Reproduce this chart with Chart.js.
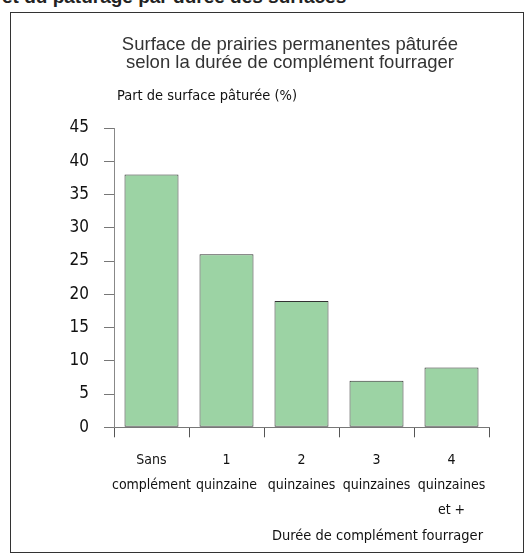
<!DOCTYPE html>
<html>
<head>
<meta charset="utf-8">
<script src="https://cdn.jsdelivr.net/npm/chart.js@4.4.1/dist/chart.umd.min.js"></script>
<style>
  body { margin: 0; background: #fff; width: 531px; height: 560px; overflow: hidden; position: relative; }
  #haut { position: absolute; left: 2px; top: -13px; font: bold 19px "Liberation Sans", Arial, sans-serif; color: #222; white-space: nowrap; line-height: 19px; }
  #cadre { position: absolute; left: 10px; top: 12px; width: 512px; height: 539px; border: 1px solid #333; pointer-events: none; }
  #myChart { position: absolute; left: 0; top: 0; }
</style>
</head>
<body>
<div id="haut">et du pâturage par durée des surfaces</div>
<canvas id="myChart" width="531" height="560"></canvas>
<div id="cadre"></div>
<script>
const titre = ['Surface de prairies permanentes pâturée', 'selon la durée de complément fourrager'];
const titreY = 'Part de surface pâturée (%)';
const titreX = 'Durée de complément fourrager';

const categories = [
    ['Sans', 'complément'],
    ['1', 'quinzaine'],
    ['2', 'quinzaines'],
    ['3', 'quinzaines'],
    ['4', 'quinzaines', 'et +']
];
const partSurface = [38, 26, 19, 7, 9];
const yMin = 0;
const yMax = 45;
const yPas = 5;

const narrow = '"DejaVu Sans Condensed", "Liberation Sans", sans-serif';

// titres dessinés à la main, positions proches de l'original
const textes = {
    id: 'textes',
    afterDraw(chart) {
        const ctx = chart.ctx;
        const area = chart.chartArea;
        ctx.save();
        ctx.fillStyle = '#333';
        ctx.textBaseline = 'middle';
        ctx.textAlign = 'center';
        ctx.font = '18.5px "Liberation Sans", Arial, sans-serif';
        ctx.fillText(titre[0], 290, 45);
        ctx.fillText(titre[1], 290, 63);

        ctx.fillStyle = '#111';
        ctx.font = '14.5px ' + narrow;
        ctx.textAlign = 'left';
        ctx.fillText(titreY, area.left + 3, 96);
        ctx.textAlign = 'right';
        ctx.fillText(titreX, area.right - 6, 536);
        ctx.restore();
    }
};

const ctx = document.getElementById('myChart').getContext('2d');
const myChart = new Chart(ctx, {
    type: 'bar',
    data: {
        labels: categories,
        datasets: [{
            label: titreY,
            data: partSurface,
            backgroundColor: '#9cd3a4',
            borderColor: '#333',
            borderWidth: 1,
            borderSkipped: false,
            categoryPercentage: 1,
            barPercentage: 0.72
        }]
    },
    options: {
        responsive: false,
        devicePixelRatio: 1,
        animation: false,
        layout: {
            padding: { left: 40, right: 42, top: 128, bottom: 0 }
        },
        plugins: {
            legend: { display: false },
            title: { display: false },
            tooltip: { enabled: false }
        },
        scales: {
            x: {
                afterFit(scale) { scale.height = 132.7; },
                grid: {
                    offset: true,
                    drawOnChartArea: false,
                    tickLength: 10,
                    color: '#555'
                },
                border: { display: true, color: '#777' },
                ticks: {
                    maxRotation: 0,
                    autoSkip: false,
                    padding: 11,
                    color: '#111',
                    font: { family: narrow, size: 14, lineHeight: 25 / 14 }
                }
            },
            y: {
                min: yMin,
                max: yMax,
                afterFit(scale) { scale.width = 74; },
                grid: {
                    drawOnChartArea: false,
                    tickLength: 10,
                    color: '#777'
                },
                border: { display: true, color: '#888' },
                ticks: {
                    stepSize: yPas,
                    padding: 15,
                    color: '#111',
                    font: { family: narrow, size: 17 }
                }
            }
        }
    },
    plugins: [textes]
});
</script>
</body>
</html>
